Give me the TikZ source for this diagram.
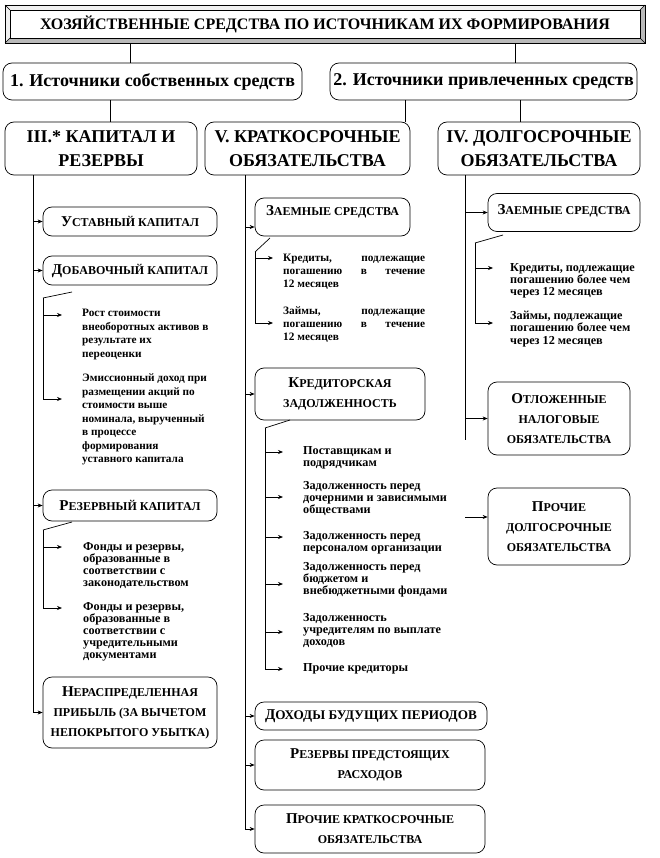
\documentclass[tikz,border=0pt]{standalone}
\usepackage{fontspec}
\setmainfont{Liberation Serif}
\usetikzlibrary{arrows.meta}
\newcommand\SCa[2]{{\fontsize{15}{20}\selectfont #1}{\fontsize{12}{20}\selectfont #2}}
\tikzset{
  ln/.style={line width=0.7pt},
  arr/.style={line width=0.7pt,-{Stealth[length=5pt,width=4pt]}},
  rbox/.style={draw,line width=0.7pt,rounded corners=9pt,align=center,inner sep=1pt,font=\bfseries},
  hdr/.style={rbox,font=\bfseries\fontsize{18}{24}\selectfont},
  sbox/.style={rbox,font=\bfseries\fontsize{12}{20}\selectfont},
  txt/.style={anchor=north west,align=left,inner sep=0pt,font=\bfseries\fontsize{11.3}{13.5}\selectfont},
  txtm/.style={txt,font=\bfseries\fontsize{11.3}{12.8}\selectfont},
  txts/.style={txt,font=\bfseries\fontsize{12.2}{12.2}\selectfont},
}
\begin{document}
\begin{tikzpicture}[x=1pt,y=-1pt]
\useasboundingbox (0,0) rectangle (660,858);
% title bevel
\fill[gray!55] (5,5) rectangle (645,43);
\fill[gray!12] (5,5) -- (645,5) -- (640,10) -- (10,10) -- (10,38) -- (5,43) -- cycle;
\fill[white] (10,10) rectangle (640,38);
\draw[line width=0.5pt] (10,10) rectangle (640,38);
\draw[line width=0.4pt] (5,5) -- (10,10) (645,5) -- (640,10) (5,43) -- (10,38) (645,43) -- (640,38);
\node[draw,line width=0.7pt,minimum width=640pt,minimum height=38pt,inner sep=0pt,
      font=\bfseries\fontsize{16}{18}\selectfont] (title) at (325,24)
      {ХОЗЯЙСТВЕННЫЕ СРЕДСТВА ПО ИСТОЧНИКАМ ИХ ФОРМИРОВАНИЯ};

% level 1
\node[hdr,minimum width=299pt,minimum height=37pt] (b1) at (152.5,81.5) {1. Источники собственных средств};
\node[hdr,minimum width=307pt,minimum height=37pt] (b2) at (483.5,81.5) {2. Источники привлеченных средств};
\coordinate (c1) at (130,0);
\coordinate (c2) at (515,0);
\draw[ln] (title.south -| c1) -- (b1.north -| c1);
\draw[ln] (title.south -| c2) -- (b2.north -| c2);

% level 2
\node[hdr,minimum width=192pt,minimum height=53pt] (III) at (101,148.5) {III.* КАПИТАЛ И\\РЕЗЕРВЫ};
\node[hdr,minimum width=205pt,minimum height=53pt] (V) at (307.5,148.5) {V. КРАТКОСРОЧНЫЕ\\ОБЯЗАТЕЛЬСТВА};
\node[hdr,minimum width=202pt,minimum height=53pt] (IV) at (539,148.5) {IV. ДОЛГОСРОЧНЫЕ\\ОБЯЗАТЕЛЬСТВА};
\coordinate (c3) at (110,0);
\coordinate (c4) at (405,0);
\coordinate (c5) at (520,0);
\draw[ln] (b1.south -| c3) -- (III.north -| c3);
\draw[ln] (b2.south -| c4) -- (V.north -| c4);
\draw[ln] (b2.south -| c5) -- (IV.north -| c5);

% ---------- left column
\node[sbox,minimum width=174pt,minimum height=29pt] (ust) at (130,221.5) {\SCa{У}{СТАВНЫЙ КАПИТАЛ}};
\node[sbox,minimum width=174pt,minimum height=29pt] (dob) at (130,270.5) {\SCa{Д}{ОБАВОЧНЫЙ КАПИТАЛ}};
\node[sbox,minimum width=174pt,minimum height=31pt] (rez) at (130,505.5) {\SCa{Р}{ЕЗЕРВНЫЙ КАПИТАЛ}};
\node[sbox,minimum width=174pt,minimum height=71pt] (ner) at (130,712.5) {\SCa{Н}{ЕРАСПРЕДЕЛЕННАЯ}\\ПРИБЫЛЬ (ЗА ВЫЧЕТОМ\\НЕПОКРЫТОГО УБЫТКА)};
\coordinate (L) at (33,0);
\draw[arr] (III.south -| L) |- (ner.west);
\draw[arr] (ust.west -| L) -- (ust.west);
\draw[arr] (dob.west -| L) -- (dob.west);
\draw[arr] (rez.west -| L) -- (rez.west);

\node[txt] (t1) at (82,309) {Рост стоимости\\внеоборотных активов в\\результате их\\переоценки};
\node[txt] (t2) at (82,374) {Эмиссионный доход при\\размещении акций по\\стоимости выше\\номинала, вырученный\\в процессе\\формирования\\уставного капитала};
\coordinate (d0) at (43,298);
\coordinate (d1) at (62,315);
\coordinate (d2) at (62,399);
\draw[ln] (72,292) -- (d0);
\draw[arr] (d0) |- (d2);
\draw[arr] (d0 |- d1) -- (d1);

\node[txts] (t3) at (83,542) {Фонды и резервы,\\образованные в\\соответствии с\\законодательством};
\node[txts] (t4) at (83,602) {Фонды и резервы,\\образованные в\\соответствии с\\учредительными\\документами};
\coordinate (r0) at (43,530);
\coordinate (r1) at (62,547);
\coordinate (r2) at (62,608);
\draw[ln] (72,522) -- (r0);
\draw[arr] (r0) |- (r2);
\draw[arr] (r0 |- r1) -- (r1);

% ---------- middle column
\node[sbox,minimum width=155pt,minimum height=38pt,text depth=12pt] (zs1) at (332.5,217) {\SCa{З}{АЕМНЫЕ СРЕДСТВА}};
\node[sbox,minimum width=170pt,minimum height=52pt] (kz) at (340,394) {\SCa{К}{РЕДИТОРСКАЯ}\\ЗАДОЛЖЕННОСТЬ};
\node[sbox,minimum width=232pt,minimum height=28pt] (dbp) at (371,716) {{\fontsize{15}{20}\selectfont Д}{\fontsize{13.2}{20}\selectfont ОХОДЫ БУДУЩИХ ПЕРИОДОВ}};
\node[sbox,minimum width=230pt,minimum height=50pt] (rpr) at (370,765) {\SCa{Р}{ЕЗЕРВЫ ПРЕДСТОЯЩИХ}\\РАСХОДОВ};
\node[sbox,minimum width=230pt,minimum height=48pt] (pko) at (370,829) {\SCa{П}{РОЧИЕ КРАТКОСРОЧНЫЕ}\\ОБЯЗАТЕЛЬСТВА};
\coordinate (M) at (245,0);
\draw[arr] (V.south -| M) |- (pko.west);
\draw[arr] ([yshift=-10pt]zs1.west -| M) -- ([yshift=-10pt]zs1.west);
\draw[arr] (kz.west -| M) -- (kz.west);
\draw[arr] (dbp.west -| M) -- (dbp.west);
\draw[arr] (rpr.west -| M) -- (rpr.west);

\node[txtm] (t5) at (283,254) {\makebox[142pt][s]{Кредиты, подлежащие}\\\makebox[142pt][s]{погашению в течение}\\12 месяцев};
\node[txtm] (t6) at (283,307) {\makebox[142pt][s]{Займы, подлежащие}\\\makebox[142pt][s]{погашению в течение}\\12 месяцев};
\coordinate (z0) at (255,252);
\coordinate (z1) at (273,258);
\coordinate (z2) at (273,323);
\draw[ln] (270,238) -- (z0);
\draw[arr] (z0) |- (z2);
\draw[arr] (z0 |- z1) -- (z1);

\node[txts] (k1) at (303,446) {Поставщикам и\\подрядчикам};
\node[txts] (k2) at (303,481) {Задолженность перед\\дочерними и зависимыми\\обществами};
\node[txts] (k3) at (303,531) {Задолженность перед\\персоналом организации};
\node[txts] (k4) at (303,562) {Задолженность перед\\бюджетом и\\внебюджетными фондами};
\node[txts] (k5) at (303,613) {Задолженность\\учредителям по выплате\\доходов};
\node[txts] (k6) at (303,663) {Прочие кредиторы};
\coordinate (q0) at (265,428);
\coordinate (q1) at (283,452);
\coordinate (q2) at (283,497);
\coordinate (q3) at (283,537);
\coordinate (q4) at (283,584);
\coordinate (q5) at (283,632);
\coordinate (q6) at (283,669);
\draw[ln] (290,420) -- (q0);
\draw[arr] (q0) |- (q6);
\foreach \q in {q1,q2,q3,q4,q5} \draw[arr] (q0 |- \q) -- (\q);

% ---------- right column
\node[sbox,minimum width=152pt,minimum height=38pt,text depth=6pt] (zs2) at (564,212.5) {\SCa{З}{АЕМНЫЕ СРЕДСТВА}};
\node[sbox,minimum width=142pt,minimum height=73pt] (onl) at (559,418.5) {\SCa{О}{ТЛОЖЕННЫЕ}\\НАЛОГОВЫЕ\\ОБЯЗАТЕЛЬСТВА};
\node[sbox,minimum width=142pt,minimum height=77pt] (pdo) at (559,526.5) {\SCa{П}{РОЧИЕ}\\ДОЛГОСРОЧНЫЕ\\ОБЯЗАТЕЛЬСТВА};
\coordinate (R) at (465,0);
\coordinate (Rend) at (465,440);
\draw[ln] (IV.south -| R) -- (Rend);
\draw[arr] (zs2.west -| R) -- (zs2.west);
\draw[arr] (onl.west -| R) -- (onl.west);
\coordinate (pf) at (465,517);
\draw[arr] (pf) -- (pdo.west |- pf);

\node[txts] (t7) at (510,263) {Кредиты, подлежащие\\погашению более чем\\через 12 месяцев};
\node[txts] (t8) at (510,311) {Займы, подлежащие\\погашению более чем\\через 12 месяцев};
\coordinate (w0) at (475,243);
\coordinate (w1) at (493,268);
\coordinate (w2) at (493,323);
\draw[ln] (503,235) -- (w0);
\draw[arr] (w0) |- (w2);
\draw[arr] (w0 |- w1) -- (w1);
\end{tikzpicture}
\end{document}
